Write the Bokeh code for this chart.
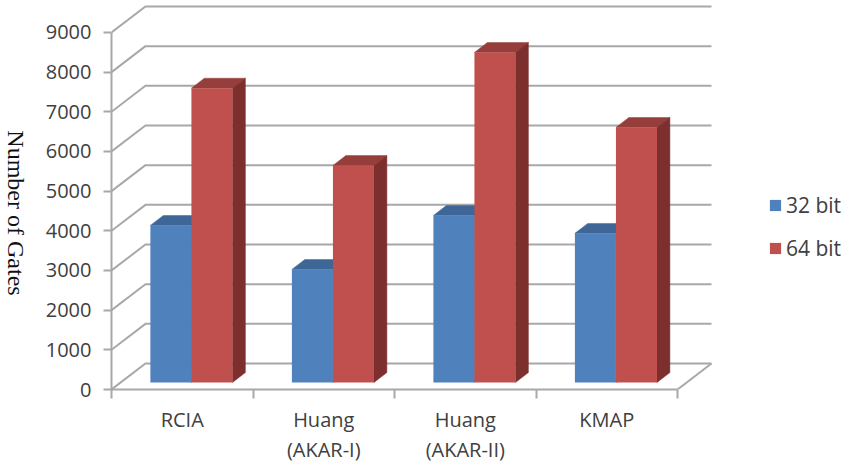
from bokeh.core.properties import value
from bokeh.embed import file_html
from bokeh.layouts import row
from bokeh.models import FixedTicker, Legend, LegendItem, LinearAxis, Range1d
from bokeh.plotting import figure
from bokeh.resources import INLINE

category_first_line = ["RCIA", "Huang", "Huang", "KMAP"]
category_second_line = ["", "(AKAR-I)", "(AKAR-II)", ""]
series_names = ["32 bit", "64 bit"]
gates_32 = [3960, 2850, 4210, 3760]
gates_64 = [7420, 5470, 8320, 6430]
y_ticks = [0, 1000, 2000, 3000, 4000, 5000, 6000, 7000, 8000, 9000]
y_title = "Number of Gates"

BLUE, BLUE_TOP = "#4F81BD", "#3E6696"
RED, RED_TOP, RED_SIDE = "#C0504D", "#963E3B", "#7C2F2D"
GRID = "#A8A8A8"
TEXT = "#404040"
FONT = "Open Sans"

# Oblique projection: depth 1 is the back wall of the 3D box.
DEPTH_X = 0.24
DEPTH_Y = 655
BAR_WIDTH = 0.29
BAR_NEAR = 0.27
BAR_FAR = 0.65
GAP = 0.21


def project(x, v, depth):
    return x + depth * DEPTH_X, v + depth * DEPTH_Y


# Narrow strip holding the title, which reads top to bottom beside the value axis.
TITLE_W = 40
title_fig = figure(
    width=TITLE_W, height=465, output_backend="svg", toolbar_location=None,
    x_range=Range1d(0, TITLE_W), y_range=Range1d(0, 465),
    x_axis_type=None, y_axis_type=None, min_border=0,
)
title_fig.outline_line_color = None
title_fig.xgrid.visible = False
title_fig.ygrid.visible = False
title_fig.text(
    x=[15], y=[211], text=[y_title], angle=-90, angle_units="deg",
    text_align="center", text_baseline="middle",
    text_font=value("Liberation Serif"), text_font_size="24px", text_color="#111111",
)

# The plot frame runs to the right edge of the page so the legend can sit inside it.
p = figure(
    width=845 - TITLE_W, height=465, output_backend="svg", toolbar_location=None,
    x_range=Range1d(0, 5.187), y_range=Range1d(0, 9806),
    x_axis_type=None, y_axis_type=None,
    min_border_left=111 - TITLE_W, min_border_right=0, min_border_top=0, min_border_bottom=76,
)
p.outline_line_color = None
p.xgrid.visible = False
p.ygrid.visible = False

# Back wall gridlines and their continuation down the left wall
for tick in y_ticks:
    x0, y0 = project(0, tick, 0)
    x1, y1 = project(0, tick, 1)
    x2, y2 = project(4, tick, 1)
    p.line([x0, x1, x2], [y0, y1, y2], line_color=GRID, line_width=2)

# Right edge of the floor
xa, ya = project(4, 0, 0)
xb, yb = project(4, 0, 1)
p.line([xa, xb], [ya, yb], line_color=GRID, line_width=2)


def bar_3d(left, val, face, top, side):
    x0, base = project(left, 0, BAR_NEAR)
    x1 = x0 + BAR_WIDTH
    fx = BAR_FAR - BAR_NEAR
    dx, dv = fx * DEPTH_X, fx * DEPTH_Y
    yt = base + val
    p.patch([x0, x1, x1 + dx, x0 + dx], [yt, yt, yt + dv, yt + dv], color=top, line_width=0.5)
    p.patch([x1, x1 + dx, x1 + dx, x1], [base, base + dv, yt + dv, yt], color=side, line_width=0.5)
    return p.vbar(x=[(x0 + x1) / 2], bottom=[base], top=[yt], width=BAR_WIDTH, color=face, line_width=0)


blue_marker = red_marker = None
for i in range(len(category_first_line)):
    blue_marker = bar_3d(i + GAP, gates_32[i], BLUE, BLUE_TOP, BLUE_TOP)
    red_marker = bar_3d(i + GAP + BAR_WIDTH, gates_64[i], RED, RED_TOP, RED_SIDE)

y_axis = LinearAxis(
    ticker=FixedTicker(ticks=y_ticks), bounds=(0, 9000),
    axis_line_color=GRID, axis_line_width=2,
    major_tick_line_color=GRID, major_tick_line_width=2,
    major_tick_in=0, major_tick_out=8, minor_tick_line_color=None,
    major_label_standoff=12, major_label_text_font=FONT,
    major_label_text_font_size="20px", major_label_text_color=TEXT,
)
p.add_layout(y_axis, "left")

# Group separators are minor ticks; the category names hang from the major positions.
centers = [i + 0.5 for i in range(len(category_first_line))]
x_axis = LinearAxis(
    ticker=FixedTicker(ticks=centers, minor_ticks=[0, 1, 2, 3, 4]), bounds=(0, 4),
    axis_line_color=GRID, axis_line_width=2,
    major_tick_line_color=None, major_tick_in=0, major_tick_out=0,
    minor_tick_line_color=GRID, minor_tick_line_width=2,
    minor_tick_in=0, minor_tick_out=9,
    major_label_overrides=dict(zip(centers, category_first_line)),
    major_label_standoff=7, major_label_text_font=FONT,
    major_label_text_font_size="20px", major_label_text_color=TEXT,
)
p.add_layout(x_axis, "below")

# Second line of the category names, as a plain axis under the first
second_ticks = [c for c, t in zip(centers, category_second_line) if t]
second_axis = LinearAxis(
    ticker=FixedTicker(ticks=second_ticks), axis_line_color=None,
    major_tick_line_color=None, minor_tick_line_color=None,
    major_tick_in=0, major_tick_out=0,
    major_label_overrides=dict(zip(centers, category_second_line)),
    major_label_standoff=0, major_label_text_font=FONT,
    major_label_text_font_size="20px", major_label_text_color=TEXT,
)
p.add_layout(second_axis, "below")

legend = Legend(
    items=[LegendItem(label=series_names[0], renderers=[blue_marker]),
           LegendItem(label=series_names[1], renderers=[red_marker])],
    location=(657, 127), glyph_width=14, glyph_height=14, label_standoff=4,
    label_height=20, label_text_font=FONT, label_text_font_size="21px",
    label_text_color=TEXT, spacing=15, padding=0, margin=0,
    border_line_color=None, background_fill_alpha=0,
)
p.add_layout(legend)

page = row(title_fig, p, spacing=0)
open("out.html", "w").write(file_html(page, INLINE))
